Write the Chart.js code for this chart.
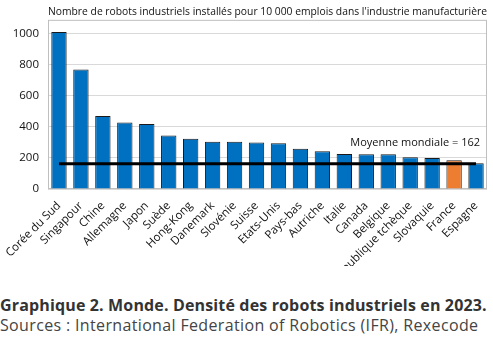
<!DOCTYPE html>
<html>
<head>
<meta charset="utf-8">
<script src="https://cdn.jsdelivr.net/npm/chart.js@4/dist/chart.umd.min.js"></script>
<style>
  body { margin: 0; background: #fff; width: 493px; height: 341px; overflow: hidden; }
  #boite { position: relative; width: 493px; height: 266px; }
  .legende { font-family: "Open Sans", sans-serif; color: #333; font-size: 16px; margin: 0; padding-left: 0; white-space: nowrap; }
  #titre { font-weight: 700; margin-top: 29px; line-height: 20px; letter-spacing: 0.15px; }
  #sources { font-weight: 400; line-height: 20px; color: #444; letter-spacing: 0.35px; }
</style>
</head>
<body>
<div id="boite"><canvas id="grafica"></canvas></div>
<p class="legende" id="titre">Graphique 2. Monde. Densité des robots industriels en 2023.</p>
<p class="legende" id="sources">Sources : International Federation of Robotics (IFR), Rexecode</p>

<script>
// pays, classés par densité de robots
const pays = ['Corée du Sud', 'Singapour', 'Chine', 'Allemagne', 'Japon', 'Suède', 'Hong-Kong',
  'Danemark', 'Slovénie', 'Suisse', 'Etats-Unis', 'Pays-bas', 'Autriche', 'Italie', 'Canada',
  'Belgique', 'République tchèque', 'Slovaquie', 'France', 'Espagne'];
// robots pour 10 000 emplois
const densite = [1012, 770, 470, 429, 419, 345, 324, 305, 304, 300, 295, 260, 243, 226, 224, 224, 205, 199, 185, 166];
const moyenneMondiale = 162;
const ticksY = [0, 200, 400, 600, 800, 1000];

const bleu = '#0070C0';
const orange = '#ED7D31';
const couleurs = pays.map(p => p === 'France' ? orange : bleu);
const ligneMoyenne = pays.map(() => moyenneMondiale);

// cadre gris autour de la zone de tracé + étiquette de la moyenne
const cadre = {
  id: 'cadre',
  beforeDatasetsDraw(chart) {
    const a = chart.chartArea;
    const ctx = chart.ctx;
    ctx.save();
    ctx.strokeStyle = '#bfbfbf';
    ctx.lineWidth = 1;
    ctx.strokeRect(a.left + 0.5, a.top + 0.5, a.right - a.left - 1, a.bottom - a.top - 1);
    ctx.restore();
  },
  afterDatasetsDraw(chart) {
    const ctx = chart.ctx;
    const x = chart.scales.x.getPixelForValue(pays.length - 1) + 4;
    const y = chart.scales.y.getPixelForValue(moyenneMondiale) - 21;
    ctx.save();
    ctx.font = '11px "Open Sans"';
    ctx.fillStyle = '#111';
    ctx.textAlign = 'right';
    ctx.textBaseline = 'middle';
    ctx.fillText('Moyenne mondiale = ' + moyenneMondiale, x, y);
    ctx.restore();
  }
};

const ctx = document.getElementById('grafica').getContext('2d');
const chart = new Chart(ctx, {
  data: {
    labels: pays,
    datasets: [
      {
        type: 'line',
        label: 'Moyenne mondiale',
        data: ligneMoyenne,
        borderColor: '#000',
        borderWidth: 3,
        pointRadius: 0,
        fill: false,
        order: 0
      },
      {
        type: 'bar',
        label: 'Densité',
        data: densite,
        backgroundColor: couleurs,
        borderColor: '#1a1a1a',
        borderWidth: 1,
        barPercentage: 0.7,
        categoryPercentage: 1,
        order: 1
      }
    ]
  },
  options: {
    responsive: true,
    maintainAspectRatio: false,
    animation: false,
    layout: { padding: { top: 0, right: 6, left: 0, bottom: 0 } },
    scales: {
      y: {
        min: 0,
        max: 1090,
        ticks: {
          stepSize: 200,
          color: '#111',
          padding: 9,
          font: { family: 'Open Sans', size: 11.5 },
          callback: v => String(v)
        },
        afterBuildTicks(scale) {
          scale.ticks = ticksY.map(v => ({ value: v }));
        },
        afterFit(scale) { scale.width = 48; },
        grid: { color: '#d9d9d9', drawTicks: false },
        border: { display: false }
      },
      x: {
        ticks: {
          maxRotation: 45,
          minRotation: 45,
          autoSkip: false,
          color: '#111',
          padding: 2,
          font: { family: 'Open Sans', size: 11.5 }
        },
        afterFit(scale) { scale.height = 77; },
        grid: { display: false },
        border: { display: false }
      }
    },
    plugins: {
      legend: { display: false },
      tooltip: { enabled: false },
      title: {
        display: true,
        fullSize: false,
        text: "Nombre de robots industriels installés pour 10 000 emplois dans l'industrie manufacturière",
        color: '#111',
        font: { family: 'Open Sans', size: 10.7, weight: 'normal' },
        padding: { top: 6, bottom: 1 }
      }
    }
  },
  plugins: [cadre]
});
</script>
</body>
</html>
